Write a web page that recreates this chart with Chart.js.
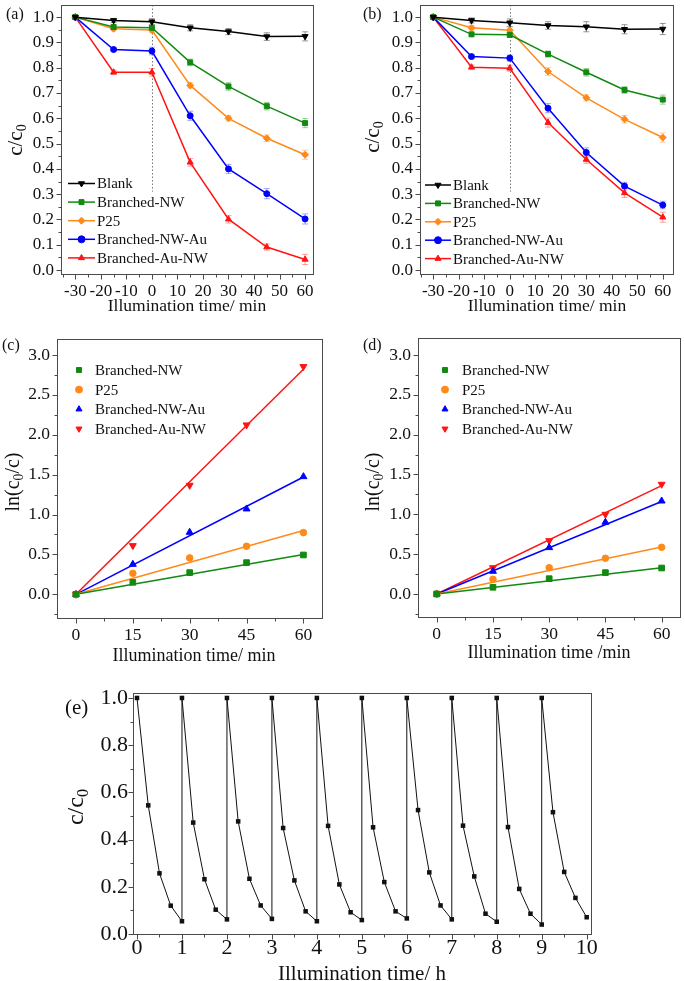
<!DOCTYPE html>
<html>
<head>
<meta charset="utf-8">
<script src="https://cdn.jsdelivr.net/npm/chart.js@4.4.0/dist/chart.umd.min.js"></script>
<style>
  body { margin: 0; background: #fff; width: 685px; height: 981px; position: relative; overflow: hidden; }
  canvas { position: absolute; }
</style>
</head>
<body>
<canvas id="chartA" width="340" height="320" style="left:0;top:0"></canvas>
<canvas id="chartB" width="345" height="320" style="left:340px;top:0"></canvas>
<canvas id="chartC" width="340" height="340" style="left:0;top:325px"></canvas>
<canvas id="chartD" width="345" height="340" style="left:340px;top:325px"></canvas>
<canvas id="chartE" width="685" height="301" style="left:0;top:680px"></canvas>
<script>
// ---- data ----
const seriesNames = ["Blank", "Branched-NW", "P25", "Branched-NW-Au", "Branched-Au-NW"];

// (a) / (b): c/c0 vs time, dark period -30..0 min
const timeDark = [-30, -15, 0, 15, 30, 45, 60];
const aBlank = [1.000, 0.987, 0.982, 0.958, 0.943, 0.923, 0.924];
const aNW    = [1.000, 0.961, 0.958, 0.821, 0.726, 0.648, 0.581];
const aP25   = [1.000, 0.954, 0.949, 0.730, 0.600, 0.521, 0.456];
const aNWAu  = [1.000, 0.872, 0.866, 0.610, 0.400, 0.302, 0.202];
const aAuNW  = [1.000, 0.782, 0.782, 0.426, 0.201, 0.091, 0.042];
const aErrBlank = [0, 0.008, 0.012, 0.012, 0.012, 0.015, 0.018];
const aErrNW    = [0, 0.008, 0.010, 0.013, 0.015, 0.015, 0.018];
const aErrP25   = [0, 0.008, 0.010, 0.010, 0.010, 0.013, 0.018];
const aErrNWAu  = [0, 0.008, 0.015, 0.018, 0.018, 0.020, 0.020];
const aErrAuNW  = [0, 0.008, 0.015, 0.015, 0.015, 0.012, 0.020];

const bBlank = [1.000, 0.987, 0.978, 0.967, 0.962, 0.952, 0.953];
const bNW    = [1.000, 0.932, 0.930, 0.854, 0.782, 0.712, 0.674];
const bP25   = [1.000, 0.958, 0.948, 0.785, 0.681, 0.596, 0.524];
const bNWAu  = [1.000, 0.844, 0.838, 0.640, 0.465, 0.332, 0.257];
const bAuNW  = [1.000, 0.802, 0.798, 0.583, 0.437, 0.305, 0.209];
const bErrBlank = [0, 0.010, 0.015, 0.015, 0.020, 0.018, 0.022];
const bErrNW    = [0, 0.008, 0.010, 0.012, 0.015, 0.013, 0.018];
const bErrP25   = [0, 0.008, 0.010, 0.015, 0.012, 0.015, 0.018];
const bErrNWAu  = [0, 0.008, 0.012, 0.018, 0.018, 0.015, 0.015];
const bErrAuNW  = [0, 0.008, 0.012, 0.018, 0.015, 0.018, 0.020];

// (c) / (d): ln(c0/c) vs time with linear fits
const timeKin = [0, 15, 30, 45, 60];
const cNW   = [0, 0.150, 0.272, 0.397, 0.493];
const cP25  = [0, 0.263, 0.456, 0.602, 0.773];
const cNWAu = [0, 0.376, 0.777, 1.070, 1.475];
const cAuNW = [0, 0.610, 1.366, 2.123, 2.854];
const dNW   = [0, 0.084, 0.192, 0.268, 0.326];
const dP25  = [0, 0.184, 0.330, 0.448, 0.586];
const dNWAu = [0, 0.285, 0.582, 0.900, 1.167];
const dAuNW = [0, 0.330, 0.669, 1.000, 1.377];
const fitTime = [0, 60];
const cFitNW = [0, 0.50], cFitP25 = [0, 0.80], cFitNWAu = [0, 1.47], cFitAuNW = [0, 2.82];
const dFitNW = [0, 0.33], dFitP25 = [0, 0.59], dFitNWAu = [0, 1.16], dFitAuNW = [0, 1.36];

// (e): ten recycling runs
const cycleTime = [
  0, 0.25, 0.5, 0.75, 1,  1, 1.25, 1.5, 1.75, 2,  2, 2.25, 2.5, 2.75, 3,
  3, 3.25, 3.5, 3.75, 4,  4, 4.25, 4.5, 4.75, 5,  5, 5.25, 5.5, 5.75, 6,
  6, 6.25, 6.5, 6.75, 7,  7, 7.25, 7.5, 7.75, 8,  8, 8.25, 8.5, 8.75, 9,
  9, 9.25, 9.5, 9.75, 10
];
const cycleRatio = [
  1, 0.545, 0.257, 0.120, 0.054,  1, 0.472, 0.232, 0.103, 0.062,  1, 0.477, 0.234, 0.121, 0.064,
  1, 0.449, 0.227, 0.096, 0.054,  1, 0.458, 0.210, 0.092, 0.059,  1, 0.452, 0.220, 0.096, 0.066,
  1, 0.525, 0.261, 0.121, 0.062,  1, 0.459, 0.244, 0.086, 0.052,  1, 0.453, 0.191, 0.086, 0.040,
  1, 0.516, 0.263, 0.153, 0.071
];

// ---- styling ----
const FONT = "'Liberation Serif', 'Times New Roman', serif";
Chart.defaults.font.family = FONT;
Chart.defaults.color = "#111";
Chart.defaults.animation = false;

const frameColor = "#4a4a4a";
const colors = ["#000000", "#118a11", "#ff8a1c", "#0000ff", "#ff1414"];
const errColors = ["rgba(0,0,0,0.4)", "rgba(17,138,17,0.4)", "rgba(255,138,28,0.45)", "rgba(0,0,255,0.35)", "rgba(255,20,20,0.4)"];
const stylesAB = [["triangle", 180], ["rect", 0], ["rectRot", 0], ["circle", 0], ["triangle", 0]];
const stylesCD = [["rect", 0], ["circle", 0], ["triangle", 0], ["triangle", 180]];

function pts(xs, ys) {
  return xs.map((x, i) => ({ x: x, y: ys[i] }));
}

function drawMarker(ctx, style, rot, x, y, r, color) {
  ctx.fillStyle = color;
  ctx.strokeStyle = color;
  ctx.lineWidth = 1;
  Chart.helpers.drawPoint(ctx, { pointStyle: style, rotation: rot, radius: r, borderWidth: 1 }, x, y);
}

// text with subscripts: parts = [[text, isSub], ...]
function drawRich(ctx, t) {
  const size = t.size;
  const sub = size * 0.68;
  ctx.save();
  ctx.translate(t.x, t.y);
  if (t.rot) ctx.rotate(t.rot);
  ctx.fillStyle = "#111";
  ctx.textBaseline = "alphabetic";
  let total = 0;
  t.parts.forEach(p => {
    ctx.font = (p[1] ? sub : size) + "px " + FONT;
    total += ctx.measureText(p[0]).width;
  });
  let x = t.align === "left" ? 0 : -total / 2;
  const base = size * 0.33;
  t.parts.forEach(p => {
    ctx.font = (p[1] ? sub : size) + "px " + FONT;
    ctx.fillText(p[0], x, p[1] ? base + size * 0.2 : base);
    x += ctx.measureText(p[0]).width;
  });
  ctx.restore();
}

const paperPlugin = {
  id: "paper",
  beforeDatasetsDraw(chart, args, opts) {
    const ctx = chart.ctx;
    const xs = chart.scales.x, ys = chart.scales.y;
    ctx.save();
    if (opts.guide) {
      ctx.strokeStyle = "#777";
      ctx.lineWidth = 1;
      ctx.setLineDash([1.5, 2]);
      const gx = Math.round(xs.getPixelForValue(0)) + 0.5;
      ctx.beginPath();
      ctx.moveTo(gx, chart.chartArea.top);
      ctx.lineTo(gx, ys.getPixelForValue(opts.guide));
      ctx.stroke();
      ctx.setLineDash([]);
    }
    chart.data.datasets.forEach(ds => {
      if (!ds.errorBars) return;
      ctx.strokeStyle = ds.errorColor;
      ctx.lineWidth = 1;
      ds.data.forEach((p, j) => {
        const e = ds.errorBars[j];
        if (!e) return;
        const px = xs.getPixelForValue(p.x);
        const y1 = ys.getPixelForValue(p.y + e);
        const y2 = ys.getPixelForValue(p.y - e);
        ctx.beginPath();
        ctx.moveTo(px, y1); ctx.lineTo(px, y2);
        ctx.moveTo(px - 3, y1); ctx.lineTo(px + 3, y1);
        ctx.moveTo(px - 3, y2); ctx.lineTo(px + 3, y2);
        ctx.stroke();
      });
    });
    ctx.restore();
  },
  afterDatasetsDraw(chart, args, opts) {
    const ctx = chart.ctx;
    const a = chart.chartArea;
    const xs = chart.scales.x, ys = chart.scales.y;
    ctx.save();
    // frame
    ctx.strokeStyle = frameColor;
    ctx.lineWidth = 1;
    ctx.strokeRect(Math.round(a.left) + 0.5, Math.round(a.top) + 0.5, Math.round(a.width), Math.round(a.height));
    // ticks, pointing outwards
    const bottom = Math.round(a.bottom) + 0.5, left = Math.round(a.left) + 0.5;
    ctx.beginPath();
    for (let v = Math.ceil(xs.min / opts.xMinor) * opts.xMinor; v <= xs.max + 1e-9; v += opts.xMinor) {
      const px = Math.round(xs.getPixelForValue(v)) + 0.5;
      ctx.moveTo(px, bottom); ctx.lineTo(px, bottom + 3);
    }
    xs.ticks.forEach(t => {
      const px = Math.round(xs.getPixelForValue(t.value)) + 0.5;
      ctx.moveTo(px, bottom); ctx.lineTo(px, bottom + 5);
    });
    for (let v = Math.ceil(ys.min / opts.yMinor) * opts.yMinor; v <= ys.max + 1e-9; v += opts.yMinor) {
      const py = Math.round(ys.getPixelForValue(v)) + 0.5;
      ctx.moveTo(left, py); ctx.lineTo(left - 3, py);
    }
    ys.ticks.forEach(t => {
      const py = Math.round(ys.getPixelForValue(t.value)) + 0.5;
      ctx.moveTo(left, py); ctx.lineTo(left - 5, py);
    });
    ctx.stroke();

    // legend
    const L = opts.legend;
    if (L) {
      let row = 0;
      chart.data.datasets.forEach(ds => {
        if (ds.fit) return;
        const y = L.y + row * L.dy;
        row++;
        let mx = L.x;
        if (L.lineLen) {
          ctx.strokeStyle = ds.borderColor;
          ctx.lineWidth = 1.5;
          ctx.beginPath();
          ctx.moveTo(L.x, y); ctx.lineTo(L.x + L.lineLen, y);
          ctx.stroke();
          mx = L.x + L.lineLen / 2;
        }
        drawMarker(ctx, ds.pointStyle, ds.pointRotation, mx, y, L.r, ds.backgroundColor);
        ctx.font = L.size + "px " + FONT;
        ctx.fillStyle = "#111";
        ctx.textAlign = "left";
        ctx.textBaseline = "middle";
        ctx.fillText(ds.label, L.textX, y + 1);
      });
    }
    (opts.texts || []).forEach(t => drawRich(ctx, t));
    ctx.restore();
  }
};

function linearAxis(min, max, step, digits, size, fitSize, horizontal, pad) {
  return {
    type: "linear",
    min: min,
    max: max,
    grid: { display: false, drawTicks: false },
    border: { display: false },
    ticks: {
      stepSize: step,
      includeBounds: false,
      autoSkip: false,
      maxRotation: 0,
      padding: pad === undefined ? 7 : pad,
      color: "#111",
      font: { size: size },
      callback: v => digits ? Number(v).toFixed(digits) : String(Math.round(v))
    },
    afterFit: s => {
      if (horizontal) {
        s.height = fitSize;
        s.paddingLeft = 0; s.paddingRight = 0;
      } else {
        s.width = fitSize;
        s.paddingTop = 0; s.paddingBottom = 0;
      }
    }
  };
}

function makeChart(id, datasets, scales, padding, paper) {
  return new Chart(document.getElementById(id), {
    type: "scatter",
    data: { datasets: datasets },
    options: {
      responsive: false,
      animation: false,
      layout: { padding: padding },
      scales: scales,
      plugins: { legend: { display: false }, tooltip: { enabled: false }, paper: paper }
    },
    plugins: [paperPlugin]
  });
}

function decaySets(values, errors) {
  return values.map((v, i) => ({
    label: seriesNames[i],
    data: pts(timeDark, v),
    showLine: true,
    borderColor: colors[i],
    backgroundColor: colors[i],
    borderWidth: 1.5,
    pointStyle: stylesAB[i][0],
    pointRotation: stylesAB[i][1],
    pointRadius: i === 3 ? 3 : 3.5,
    pointBorderWidth: 1,
    errorBars: errors[i],
    errorColor: errColors[i]
  }));
}

function kineticSets(values, fits) {
  const sets = [];
  values.forEach((v, i) => {
    sets.push({
      label: seriesNames[i + 1],
      data: pts(timeKin, v),
      showLine: false,
      borderColor: colors[i + 1],
      backgroundColor: colors[i + 1],
      pointStyle: stylesCD[i][0],
      pointRotation: stylesCD[i][1],
      pointRadius: i === 1 ? 3.3 : 4,
      pointBorderWidth: 1
    });
  });
  fits.forEach((f, i) => {
    sets.push({
      label: "",
      fit: true,
      data: pts(fitTime, f),
      showLine: true,
      borderColor: colors[i + 1],
      borderWidth: 1.5,
      pointRadius: 0
    });
  });
  return sets;
}

const ratioTitle = [["c/c", 0], ["0", 1]];
const lnTitle = [["ln(c", 0], ["0", 1], ["/c)", 0]];

// (a)
makeChart("chartA",
  decaySets([aBlank, aNW, aP25, aNWAu, aAuNW], [aErrBlank, aErrNW, aErrP25, aErrNWAu, aErrAuNW]),
  { x: linearAxis(-35.6, 63.1, 10, 0, 17, 46, true), y: linearAxis(-0.0156, 1.048, 0.1, 1, 17, 61, false) },
  { top: 2, right: 27, left: 0, bottom: 0 },
  {
    xMinor: 5, yMinor: 0.05, guide: 0.31,
    legend: { x: 68, y: 183.5, dy: 18.6, lineLen: 27, textX: 97, r: 3.5, size: 15 },
    texts: [
      { parts: [["(a)", 0]], x: 6, y: 14, size: 16, align: "left" },
      { parts: ratioTitle, x: 15, y: 140, size: 21, rot: -Math.PI / 2 },
      { parts: [["Illumination time/ min", 0]], x: 187, y: 305, size: 17.5 }
    ]
  });

// (b)
makeChart("chartB",
  decaySets([bBlank, bNW, bP25, bNWAu, bAuNW], [bErrBlank, bErrNW, bErrP25, bErrNWAu, bErrAuNW]),
  { x: linearAxis(-35.2, 64.0, 10, 0, 17, 46, true), y: linearAxis(-0.0156, 1.048, 0.1, 1, 17, 80, false) },
  { top: 2, right: 12, left: 0, bottom: 0 },
  {
    xMinor: 5, yMinor: 0.05, guide: 0.31,
    legend: { x: 85, y: 185, dy: 18.4, lineLen: 26, textX: 113, r: 3.5, size: 15 },
    texts: [
      { parts: [["(b)", 0]], x: 23, y: 14, size: 16, align: "left" },
      { parts: ratioTitle, x: 32, y: 137, size: 21, rot: -Math.PI / 2 },
      { parts: [["Illumination time/ min", 0]], x: 207, y: 305, size: 17.5 }
    ]
  });

// (c)
makeChart("chartC",
  kineticSets([cNW, cP25, cNWAu, cAuNW], [cFitNW, cFitP25, cFitNWAu, cFitAuNW]),
  { x: linearAxis(-5.0, 64.9, 15, 0, 17.5, 47, true), y: linearAxis(-0.297, 3.2, 0.5, 1, 17.5, 57, false) },
  { top: 14, right: 18, left: 0, bottom: 0 },
  {
    xMinor: 7.5, yMinor: 0.25,
    legend: { x: 79, y: 45, dy: 19.6, lineLen: 0, textX: 95, r: 3.5, size: 15 },
    texts: [
      { parts: [["(c)", 0]], x: 2, y: 20, size: 16, align: "left" },
      { parts: lnTitle, x: 12, y: 157, size: 20, rot: -Math.PI / 2 },
      { parts: [["Illumination time/ min", 0]], x: 194, y: 330, size: 18 }
    ]
  });

// (d)
makeChart("chartD",
  kineticSets([dNW, dP25, dNWAu, dAuNW], [dFitNW, dFitP25, dFitNWAu, dFitAuNW]),
  { x: linearAxis(-5.0, 64.9, 15, 0, 17.5, 48, true), y: linearAxis(-0.289, 3.213, 0.5, 1, 17.5, 78, false) },
  { top: 13, right: 2, left: 0, bottom: 0 },
  {
    xMinor: 7.5, yMinor: 0.25,
    legend: { x: 105, y: 45, dy: 19.6, lineLen: 0, textX: 122, r: 3.5, size: 15 },
    texts: [
      { parts: [["(d)", 0]], x: 23, y: 20, size: 16, align: "left" },
      { parts: lnTitle, x: 32, y: 157, size: 20, rot: -Math.PI / 2 },
      { parts: [["Illumination time /min", 0]], x: 209, y: 327, size: 18 }
    ]
  });

// (e)
makeChart("chartE",
  [{
    label: "cycles",
    fit: true,
    data: pts(cycleTime, cycleRatio),
    showLine: true,
    borderColor: "#111",
    backgroundColor: "#111",
    borderWidth: 1,
    pointStyle: "rect",
    pointRadius: 3.2,
    pointBorderWidth: 0
  }],
  { x: linearAxis(-0.089, 10.096, 1, 0, 22, 47, true, 1), y: linearAxis(0, 1.021, 0.2, 1, 22, 133, false, 5) },
  { top: 13, right: 94, left: 0, bottom: 0 },
  {
    xMinor: 0.5, yMinor: 0.1,
    texts: [
      { parts: [["(e)", 0]], x: 65, y: 27, size: 21, align: "left" },
      { parts: ratioTitle, x: 75, y: 127, size: 24, rot: -Math.PI / 2 },
      { parts: [["Illumination time/ h", 0]], x: 362, y: 293, size: 21 }
    ]
  });
</script>
</body>
</html>
